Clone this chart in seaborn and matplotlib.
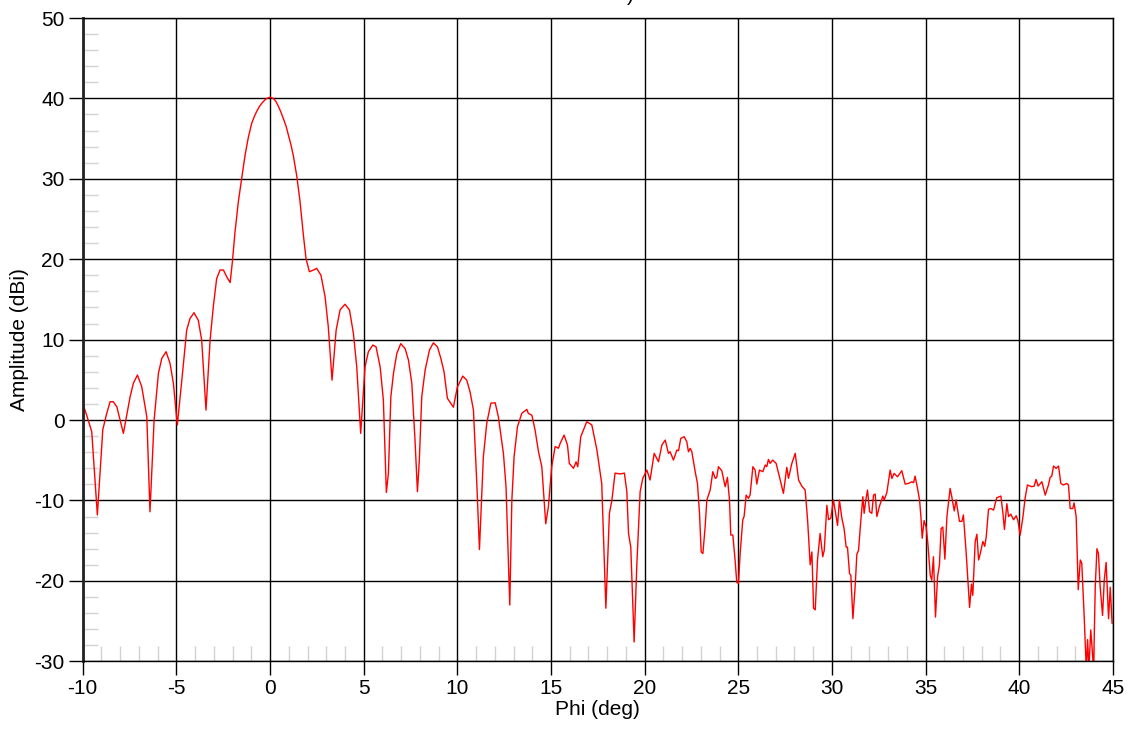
import matplotlib
matplotlib.use("Agg")
import matplotlib.pyplot as plt
import seaborn as sns
import pandas as pd
from matplotlib.ticker import MultipleLocator

sns.set_theme(style="white")
plt.rcParams["font.family"] = ["Liberation Sans", "DejaVu Sans"]
plt.rcParams["axes.unicode_minus"] = False
plt.rcParams["text.color"] = "black"
plt.rcParams["axes.labelcolor"] = "black"
plt.rcParams["xtick.color"] = "black"
plt.rcParams["ytick.color"] = "black"

# angle (deg) and amplitude (dBi)
phi_main = [
    -9.97, -9.79, -9.52, -9.22, -8.93, -8.72, -8.54, -8.37, -8.18, -7.83,
    -7.47, -7.30, -7.08, -6.85, -6.58, -6.41, -6.19, -5.96, -5.78, -5.55,
    -5.34, -5.16, -4.95, -4.71, -4.45, -4.27, -4.06, -3.83, -3.65, -3.42,
    -3.20, -3.03, -2.85, -2.67, -2.49, -2.31, -2.13, -2.01, -1.87, -1.69,
    -1.51, -1.33, -1.155, -0.98, -0.85, -0.71, -0.58, -0.44, -0.30, -0.18,
    0.0, 0.18, 0.32, 0.45, 0.58, 0.71, 0.85, 0.98, 1.12, 1.25,
    1.43, 1.60, 1.78, 1.92, 2.10, 2.32, 2.49,
    2.72, 2.94, 3.11, 3.31, 3.53, 3.74, 4.00, 4.24, 4.45, 4.63, 4.84,
]
amp_main = [
    1.87, 0.6, -1.45, -11.8, -1.2, 0.83, 2.28, 2.28, 1.65, -1.65,
    2.9, 4.56, 5.6, 4.14, 0.41, -11.4, 0.0, 5.8, 7.67, 8.5,
    7.05, 4.56, -0.6, 4.97, 11.2, 12.65, 13.35, 12.4, 9.95, 1.24,
    9.95, 14.1, 17.6, 18.66, 18.66, 17.8, 17.1, 19.7, 23.4, 27.2,
    30.1, 33.0, 35.2, 36.9, 37.7, 38.4, 38.95, 39.4, 39.75, 40.0,
    40.15, 40.0, 39.6, 39.0, 38.3, 37.5, 36.6, 35.45, 34.2, 32.8,
    30.3, 27.2, 23.0, 20.1, 18.45, 18.66, 18.87,
    18.0, 15.3, 11.6, 4.97, 11.2, 13.7, 14.4, 13.7, 10.8, 6.6, -1.65,
]

phi_mid = [
    5.07, 5.25, 5.49, 5.66, 5.88, 6.05, 6.21, 6.32, 6.45, 6.59,
    6.77, 6.98, 7.21, 7.39, 7.57, 7.74, 7.87, 7.97, 8.10, 8.28,
    8.51, 8.72, 8.94, 9.12, 9.29, 9.47, 9.79, 10.0, 10.29, 10.5,
    10.68, 10.86, 11.04, 11.18, 11.39, 11.57, 11.79, 12.02, 12.19, 12.46,
    12.6, 12.8, 12.91, 13.03, 13.21, 13.44, 13.71, 13.79, 13.98, 14.15,
    14.33, 14.51, 14.72, 14.86, 15.04, 15.22, 15.40, 15.49, 15.70, 15.88,
    15.98, 16.20, 16.34, 16.43, 16.59, 16.73, 16.91, 17.18, 17.45, 17.71,
    17.93, 18.12, 18.25, 18.42, 18.69, 18.92, 19.05, 19.14, 19.26, 19.44,
    19.58,
]
amp_mid = [
    6.6, 8.5, 9.33, 9.1, 6.6, 2.5, -9.0, -6.6, 2.9, 5.8,
    8.3, 9.5, 8.9, 7.46, 4.56, -2.5, -8.9, -5.0, 2.9, 6.2,
    8.7, 9.6, 9.1, 7.67, 6.0, 2.7, 1.6, 4.1, 5.47, 4.97,
    3.5, 1.24, -7.9, -16.1, -4.56, -0.41, 2.1, 2.15, 0.41, -4.14,
    -8.3, -23.0, -10.0, -4.56, -0.83, 0.83, 1.33, 0.83, 0.6, -1.24,
    -3.9, -5.8, -12.9, -10.8, -5.8, -3.3, -3.5, -2.9, -1.87, -3.1,
    -5.4, -6.0, -5.2, -5.8, -2.07, -1.24, -0.2, -0.6, -3.7, -7.9,
    -23.4, -11.6, -10.0, -6.6, -6.7, -6.6, -8.9, -14.1, -15.8, -27.6,
    -18.2,
]

phi_far = [
    19.76, 19.90, 20.12, 20.29, 20.51, 20.74, 20.92, 21.10, 21.27, 21.36,
    21.54, 21.72, 21.81, 21.93, 22.11, 22.25, 22.34, 22.43, 22.52, 22.70,
    22.82, 22.93, 23.02, 23.11, 23.23, 23.32, 23.50, 23.64, 23.77, 23.85,
    23.94, 24.12, 24.30, 24.42, 24.53, 24.60, 24.71, 24.83, 24.92, 25.01,
    25.10, 25.24, 25.31, 25.42, 25.54, 25.63, 25.78, 25.90, 25.99, 26.13,
    26.31, 26.44, 26.52, 26.61, 26.70, 26.84, 27.02, 27.24, 27.41, 27.59,
    27.68, 27.86, 28.04, 28.22, 28.39, 28.57, 28.70, 28.84, 28.93, 29.02,
    29.11, 29.23, 29.37, 29.51, 29.59, 29.73, 29.82, 29.94, 30.08, 30.17,
    30.30, 30.40, 30.53, 30.65, 30.76, 30.83, 30.94, 31.01, 31.12, 31.24,
    31.33, 31.42, 31.54, 31.65, 31.72, 31.81, 31.90, 32.01, 32.13, 32.22,
    32.31, 32.40, 32.54,
]
amp_far = [
    -8.9, -7.25, -6.22, -7.46, -4.14, -5.18, -3.11, -2.49, -4.14, -3.94,
    -4.97, -3.73, -3.81, -2.28, -2.07, -2.69, -3.94, -3.52, -3.94, -6.42,
    -7.88, -11.6, -16.4, -16.6, -13.3, -9.95, -8.70, -6.42, -7.25, -7.13,
    -5.80, -6.30, -8.29, -7.13, -9.95, -14.3, -14.3, -17.4, -20.2, -20.3,
    -16.6, -12.4, -12.0, -9.33, -9.74, -9.33, -5.80, -6.22, -7.96, -6.22,
    -6.42, -5.59, -5.80, -4.89, -5.39, -4.97, -5.39, -7.46, -9.12, -5.88,
    -7.25, -5.39, -4.14, -7.46, -8.21, -8.70, -12.4, -18.0, -16.4, -23.4,
    -23.6, -17.4, -14.1, -17.0, -16.2, -10.6, -12.4, -12.2, -9.95, -11.2,
    -13.1, -9.95, -12.2, -13.5, -15.8, -15.8, -19.1, -19.3, -24.7, -20.7,
    -16.7, -16.2, -12.6, -9.53, -11.6, -9.95, -8.70, -11.4, -11.6, -9.33,
    -9.20, -12.0, -10.7,
]

phi_edge = [
    32.72, 32.79, 32.93, 33.11, 33.20, 33.32, 33.50, 33.73, 33.91, 34.09,
    34.27, 34.36, 34.44, 34.57, 34.68, 34.75, 34.82, 34.92, 35.03, 35.12,
    35.25, 35.33, 35.42, 35.53, 35.64, 35.74, 35.83, 35.92, 36.03, 36.14,
    36.22, 36.31, 36.40, 36.53, 36.63, 36.81, 36.94, 37.02, 37.17, 37.35,
    37.45, 37.52, 37.65, 37.74, 37.83, 37.92, 38.06, 38.16, 38.24, 38.36,
    38.48, 38.63, 38.80, 39.02, 39.13, 39.21, 39.34, 39.43, 39.55, 39.70,
    39.84, 39.93, 40.05, 40.19, 40.32, 40.44, 40.67, 40.80, 40.90, 41.01,
    41.21, 41.39, 41.56, 41.65, 41.74, 41.83, 41.97, 42.10, 42.22, 42.36,
    42.54, 42.63, 42.72, 42.86, 42.93, 43.04, 43.15, 43.26, 43.34, 43.47,
    43.58, 43.65, 43.72, 43.82, 43.97, 44.06, 44.15, 44.23, 44.32, 44.45,
    44.54, 44.64, 44.77, 44.86, 44.96,
]
amp_edge = [
    -9.45, -9.95, -9.04, -6.22, -7.26, -6.63, -7.05, -6.30, -7.96, -7.88,
    -7.67, -7.79, -6.97, -8.50, -9.95, -12.0, -14.7, -12.5, -13.3, -15.3,
    -19.3, -19.9, -17.0, -24.5, -19.5, -18.0, -13.5, -13.3, -17.3, -12.0,
    -10.4, -8.50, -9.54, -11.3, -9.95, -12.6, -12.6, -11.8, -16.6, -23.3,
    -20.4, -21.8, -15.1, -14.2, -17.4, -16.6, -15.1, -15.7, -14.5, -11.1,
    -11.0, -11.2, -9.66, -9.45, -11.6, -13.6, -10.4, -12.0, -11.7, -12.4,
    -11.9, -12.5, -14.3, -12.2, -9.62, -8.08, -8.29, -8.21, -7.38, -8.21,
    -7.67, -9.33, -8.08, -7.13, -6.97, -5.72, -6.01, -5.72, -7.88, -8.08,
    -7.88, -8.08, -11.0, -11.0, -10.3, -12.0, -21.1, -17.4, -17.8, -24.5,
    -31.0, -27.3, -31.0, -26.1, -31.0, -20.7, -16.0, -16.6, -20.7, -24.3,
    -19.9, -17.7, -24.7, -20.8, -25.3,
]

x_ticks = [-10, -5, 0, 5, 10, 15, 20, 25, 30, 35, 40, 45]
y_ticks = [-30, -20, -10, 0, 10, 20, 30, 40, 50]

df = pd.DataFrame({
    "phi": phi_main + phi_mid + phi_far + phi_edge,
    "amp": amp_main + amp_mid + amp_far + amp_edge,
})

fig = plt.figure(figsize=(11.32, 7.32), dpi=100)
ax = fig.add_axes([0.0731, 0.0966, 0.9100, 0.8788])

sns.lineplot(data=df, x="phi", y="amp", color="red", linewidth=1.0,
             sort=False, estimator=None, ax=ax)

ax.set_xlim(-10, 45)
ax.set_ylim(-30, 50)
ax.set_xticks(x_ticks)
ax.set_yticks(y_ticks)
ax.xaxis.set_minor_locator(MultipleLocator(1))
ax.yaxis.set_minor_locator(MultipleLocator(2))

ax.grid(True, which="major", color="black", linewidth=1.0)
ax.set_axisbelow(True)

ax.tick_params(axis="both", which="major", direction="out", length=10,
               width=1.0, color="black", labelcolor="black", labelsize=15,
               pad=3, bottom=True, left=True)
ax.tick_params(axis="both", which="minor", direction="in", length=11,
               width=1.0, color="#d2d2d2", bottom=True, left=True)

for side in ["top", "right", "bottom"]:
    ax.spines[side].set_color("black")
    ax.spines[side].set_linewidth(1.0)
ax.spines["left"].set_color("#222222")
ax.spines["left"].set_linewidth(2.0)

ax.set_xlabel("Phi (deg)", fontsize=15, labelpad=1)
ax.set_ylabel("Amplitude (dBi)", fontsize=15, labelpad=4)

# title of the original is cut off at the top edge, only ")" is visible
fig.text(0.557, 1.006, ")", fontsize=15, ha="center", va="center")

fig.savefig("out.png", dpi=100)
